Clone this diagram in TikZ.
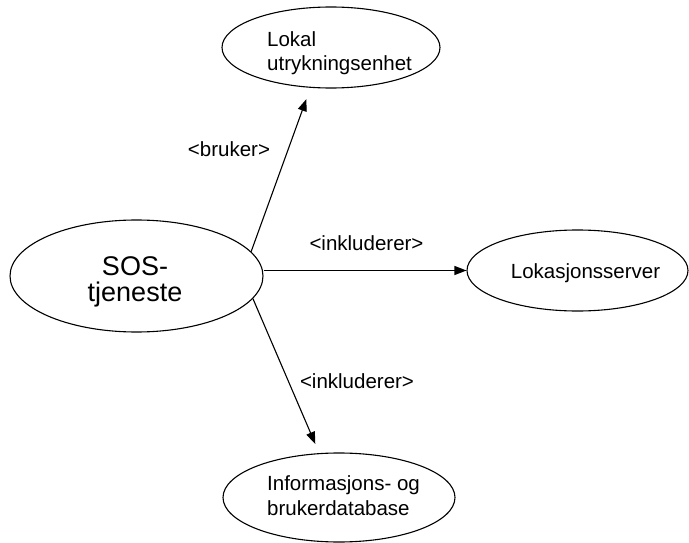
\documentclass[tikz,border=0pt]{standalone}
\usepackage{fontspec}
\setmainfont{Liberation Sans}
\usetikzlibrary{shapes.geometric,arrows.meta}
\begin{document}
\begin{tikzpicture}[x=1pt,y=-1pt,
  usecase/.style={draw, ellipse, line width=1.1pt, inner sep=0pt},
  arr/.style={-{Triangle[length=12pt,width=9pt]}, line width=1.1pt},
  lbl/.style={font=\fontsize{20.5}{24.5}\selectfont, inner sep=0pt},
  big/.style={font=\fontsize{27}{26}\selectfont, inner sep=0pt, align=center}]
\useasboundingbox (0,0) rectangle (689,543);

% use case ellipses
\node[usecase, minimum width=253pt, minimum height=112pt] (sos) at (136.5,276) {};
\node[usecase, minimum width=218pt, minimum height=81pt] (lokal) at (331,47.5) {};
\node[usecase, minimum width=221pt, minimum height=81pt] (lok) at (577.5,270.5) {};
\node[usecase, minimum width=232pt, minimum height=89pt] (info) at (339,497.5) {};

% texts inside the ellipses (base anchor = baseline of the last line)
\node[big, anchor=base] (sostxt) at (135,301.5) {SOS-\\tjeneste};
\node[lbl, align=left, anchor=base west] (lokaltxt) at (267,71) {Lokal\\utrykningsenhet};
\node[lbl, anchor=base] (loktxt) at (585.5,278) {Lokasjonsserver};
\node[lbl, align=left, anchor=base west] (infotxt) at (267,515) {Informasjons- og\\brukerdatabase};

% relations
\draw[arr, shorten >=12pt] (sos.12.6) -- (lokal.243.7);
\draw[arr] (sos.east |- lok.west) -- (lok.west);
\draw[arr, shorten >=10pt] (sos.-11.4) -- (info.114.2);

% relation labels
\node[lbl, anchor=base] (l1) at (229,157) {<bruker>};
\node[lbl, anchor=base] (l2) at (366.5,250) {<inkluderer>};
\node[lbl, anchor=base] (l3) at (357,388) {<inkluderer>};
\end{tikzpicture}
\end{document}
